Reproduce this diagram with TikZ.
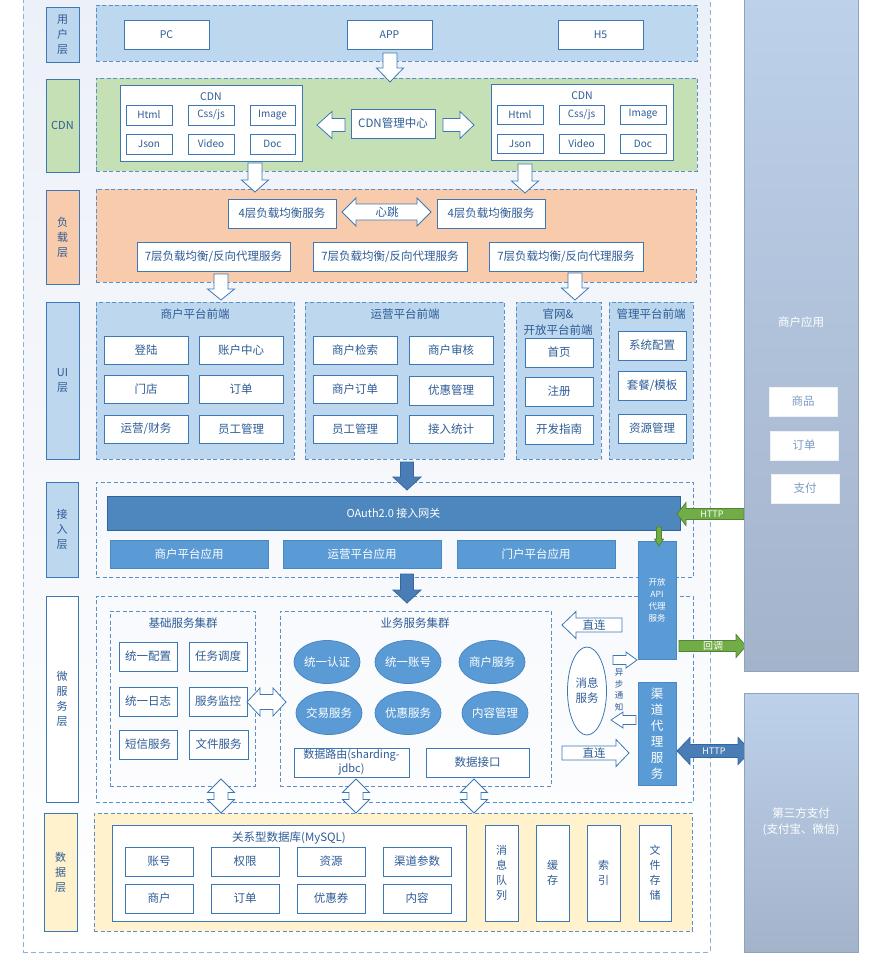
\documentclass[tikz,border=0pt]{standalone}
\usepackage{fontspec}
\setmainfont{Noto Sans CJK SC}
\usetikzlibrary{shapes.geometric}
\definecolor{txt}{HTML}{2E5C95}
\definecolor{bd}{HTML}{3C78B5}
\definecolor{dsh}{HTML}{5B8FC9}
\definecolor{odsh}{HTML}{8DB0D8}
\definecolor{lblue}{HTML}{BDD7EE}
\definecolor{lgreen}{HTML}{C5E0B4}
\definecolor{lorange}{HTML}{F8CBAD}
\definecolor{lyellow}{HTML}{FFF2CC}
\definecolor{mblue}{HTML}{5B9BD5}
\definecolor{mbluebd}{HTML}{4A88C5}
\definecolor{gwblue}{HTML}{4D87BE}
\definecolor{gwbd}{HTML}{2F6399}
\definecolor{sfill}{HTML}{4A7DB5}
\definecolor{sdraw}{HTML}{35679F}
\definecolor{gfill}{HTML}{70AD47}
\definecolor{gdraw}{HTML}{548235}
\definecolor{rtop}{HTML}{BDD1EA}
\definecolor{rbot}{HTML}{A3B3CA}
\definecolor{rbd}{HTML}{8FA3BF}
\definecolor{rtxt}{HTML}{7A9CC6}
\definecolor{bgtop}{HTML}{ECF0F8}
\newcommand\FS[2]{\fontsize{#1}{#2}\selectfont}
\newcommand\BX[7]{\node[#6, minimum width={(#4-#2)*1pt}, minimum height={(#5-#3)*1pt}] (#1) at ({(#2+#4)/2},{(#3+#5)/2}) {#7};}
% horizontal single arrow: style, tail x, head base x, tip x, yc, shaft half, head half
\newcommand\HArr[7]{\draw[#1] ({#2},{#5-#6}) -- ({#3},{#5-#6}) -- ({#3},{#5-#7}) -- ({#4},{#5}) -- ({#3},{#5+#7}) -- ({#3},{#5+#6}) -- ({#2},{#5+#6}) -- cycle;}
% vertical single arrow: style, tail y, head base y, tip y, xc, shaft half, head half
\newcommand\VArr[7]{\draw[#1] ({#5-#6},{#2}) -- ({#5-#6},{#3}) -- ({#5-#7},{#3}) -- ({#5},{#4}) -- ({#5+#7},{#3}) -- ({#5+#6},{#3}) -- ({#5+#6},{#2}) -- cycle;}
% horizontal double arrow: style, x1, x2, yc, shaft half, head half, head len
\newcommand\HDArr[7]{\draw[#1] ({#2},{#4}) -- ({#2+#7},{#4-#6}) -- ({#2+#7},{#4-#5}) -- ({#3-#7},{#4-#5}) -- ({#3-#7},{#4-#6}) -- ({#3},{#4}) -- ({#3-#7},{#4+#6}) -- ({#3-#7},{#4+#5}) -- ({#2+#7},{#4+#5}) -- ({#2+#7},{#4+#6}) -- cycle;}
% vertical double arrow: style, y1, y2, xc, shaft half, head half, head len
\newcommand\VDArr[7]{\draw[#1] ({#4},{#2}) -- ({#4-#6},{#2+#7}) -- ({#4-#5},{#2+#7}) -- ({#4-#5},{#3-#7}) -- ({#4-#6},{#3-#7}) -- ({#4},{#3}) -- ({#4+#6},{#3-#7}) -- ({#4+#5},{#3-#7}) -- ({#4+#5},{#2+#7}) -- ({#4+#6},{#2+#7}) -- cycle;}
\tikzset{
  layer/.style={draw=bd, line width=0.8pt, text=txt, font=\FS{11}{15}, align=center, inner sep=0pt, outer sep=0pt},
  panel/.style={draw=dsh, line width=0.9pt, dash pattern=on 4pt off 2.5pt, inner sep=0pt, outer sep=0pt},
  wbox/.style={draw=bd, line width=0.8pt, fill=white, text=txt, font=\FS{11.5}{14}, align=center, inner sep=0pt, outer sep=0pt},
  sbox/.style={wbox, font=\FS{10}{12}},
  fbox/.style={draw=mbluebd, line width=0.8pt, fill=mblue, text=white, font=\FS{11.5}{14}, align=center, inner sep=0pt, outer sep=0pt},
  ell/.style={ellipse, draw=mbluebd, line width=0.8pt, fill=mblue, text=white, font=\FS{11.5}{14}, minimum width=66pt, minimum height=43pt, inner sep=0pt},
  rcol/.style={draw=rbd, line width=0.8pt, top color=rtop, bottom color=rbot, inner sep=0pt, outer sep=0pt},
  rbox/.style={draw=white!85!rbd, line width=0.8pt, fill=white, text=rtxt, font=\FS{11.5}{14}, inner sep=0pt, outer sep=0pt},
  hollow/.style={draw=bd, line width=0.8pt, fill=white, line join=miter},
  solidarr/.style={draw=sdraw, line width=0.8pt, fill=sfill},
  greenarr/.style={draw=gdraw, line width=0.8pt, fill=gfill},
  lbl/.style={text=txt, font=\FS{11.5}{14}, inner sep=0pt, align=center},
  wlbl/.style={text=white, font=\FS{9}{12}, inner sep=0pt, align=center}
}
\begin{document}
\begin{tikzpicture}[x=1pt,y=-1pt]
\useasboundingbox (0,0) rectangle (882,960);
% outer frame
\BX{outer}{23}{-6}{710}{952}{draw=odsh, line width=0.9pt, dash pattern=on 5pt off 3pt, top color=bgtop, bottom color=white}{}
% layer labels
\BX{l1}{46}{7}{79}{62}{layer, fill=lblue}{用\\户\\层}
\BX{l2}{46}{79}{79}{172}{layer, fill=lgreen}{CDN}
\BX{l3}{46}{190}{79}{284}{layer, fill=lorange}{负\\载\\层}
\BX{l4}{46}{302}{79}{459}{layer, fill=lblue}{UI\\层}
\BX{l5}{46}{482}{78}{577}{layer, fill=lblue}{接\\入\\层}
\BX{l6}{46}{596}{78}{802}{layer, fill=white}{微\\服\\务\\层}
\BX{l7}{44}{813}{77}{931}{layer, fill=lyellow}{数\\据\\层}
% panels
\BX{p1}{96}{5}{697}{61}{panel, fill=lblue}{}
\BX{p2}{96}{78}{697}{171}{panel, fill=lgreen}{}
\BX{p3}{96}{189}{696}{282}{panel, fill=lorange}{}
\BX{pu1}{96}{302}{294}{459}{panel, fill=lblue}{}
\BX{pu2}{305}{302}{504}{459}{panel, fill=lblue}{}
\BX{pu3}{516}{302}{601}{459}{panel, fill=lblue}{}
\BX{pu4}{609}{302}{693}{459}{panel, fill=lblue}{}
\BX{p5}{96}{482}{693}{577}{panel}{}
\BX{p6}{96}{596}{693}{802}{panel}{}
\BX{p6a}{110}{611}{255}{786}{panel}{}
\BX{p6b}{280}{611}{551}{786}{panel}{}
\BX{p7}{94}{813}{692}{931}{panel, fill=lyellow}{}
% user layer
\BX{pc}{124}{20}{209}{49}{wbox, font=\FS{10.5}{12}}{PC}
\BX{appc}{347}{20}{432}{49}{wbox, font=\FS{10.5}{12}}{APP}
\BX{h5}{558}{20}{643}{49}{wbox, font=\FS{10.5}{12}}{H5}
\VArr{hollow}{53}{68}{82}{390}{7}{13.5}
% CDN layer
\BX{cdnL}{120}{85}{302}{161}{wbox}{}
\node[lbl, font=\FS{10.5}{12}] (cdnLt) at (211,97) {CDN};
\BX{htmlL}{126}{105}{172}{125}{sbox}{Html}
\BX{cssL}{188}{105}{234}{125}{sbox}{Css/js}
\BX{imgL}{250}{105}{295}{125}{sbox}{Image}
\BX{jsonL}{126}{134}{172}{154}{sbox}{Json}
\BX{vidL}{188}{134}{234}{154}{sbox}{Video}
\BX{docL}{250}{134}{295}{154}{sbox}{Doc}
\BX{cdnmgr}{351}{109}{435}{138}{wbox}{CDN管理中心}
\BX{cdnR}{491}{84}{673}{160}{wbox}{}
\node[lbl, font=\FS{10.5}{12}] (cdnRt) at (582,96) {CDN};
\BX{htmlR}{497}{105}{543}{124}{sbox}{Html}
\BX{cssR}{559}{105}{604}{124}{sbox}{Css/js}
\BX{imgR}{620}{105}{666}{124}{sbox}{Image}
\BX{jsonR}{497}{134}{543}{153}{sbox}{Json}
\BX{vidR}{559}{134}{604}{153}{sbox}{Video}
\BX{docR}{620}{134}{666}{153}{sbox}{Doc}
\HArr{hollow}{345}{332}{317}{125}{6.5}{13.5}
\HArr{hollow}{443}{460}{474}{125}{6.5}{13.5}
\VArr{hollow}{163}{180}{192}{255}{7}{13.5}
\VArr{hollow}{164}{181}{193}{525}{7}{13.5}
% load balancing layer
\BX{lb4L}{228}{199}{336}{228}{wbox}{4层负载均衡服务}
\BX{lb4R}{437}{199}{545}{228}{wbox}{4层负载均衡服务}
\HDArr{hollow}{342}{431}{212}{8}{14}{14}
\node[lbl] (hb) at (387,212) {心跳};
\BX{lb7a}{137}{242}{290}{271}{wbox}{7层负载均衡/反向代理服务}
\BX{lb7b}{313}{242}{467}{271}{wbox}{7层负载均衡/反向代理服务}
\BX{lb7c}{489}{242}{643}{271}{wbox}{7层负载均衡/反向代理服务}
\VArr{hollow}{274}{289}{300}{221}{7}{13.5}
\VArr{hollow}{273}{288}{300}{575}{7}{13.5}
% UI layer
\node[lbl] (t1) at (195,314) {商户平台前端};
\BX{u11}{104}{336}{188}{364}{wbox}{登陆}
\BX{u12}{199}{336}{283}{364}{wbox}{账户中心}
\BX{u13}{104}{375}{188}{403}{wbox}{门店}
\BX{u14}{199}{375}{283}{403}{wbox}{订单}
\BX{u15}{104}{415}{188}{443}{wbox}{运营/财务}
\BX{u16}{199}{415}{283}{443}{wbox}{员工管理}
\node[lbl] (t2) at (405,314) {运营平台前端};
\BX{u21}{313}{336}{397}{364}{wbox}{商户检索}
\BX{u22}{409}{336}{493}{364}{wbox}{商户审核}
\BX{u23}{313}{375}{397}{403}{wbox}{商户订单}
\BX{u24}{409}{376}{493}{405}{wbox}{优惠管理}
\BX{u25}{313}{415}{397}{443}{wbox}{员工管理}
\BX{u26}{409}{415}{493}{443}{wbox}{接入统计}
\node[lbl, font=\FS{11.5}{16}] (t3) at (558,322) {官网\&\\开放平台前端};
\BX{u31}{525}{338}{593}{367}{wbox}{首页}
\BX{u32}{525}{377}{593}{406}{wbox}{注册}
\BX{u33}{525}{415}{593}{444}{wbox}{开发指南}
\node[lbl] (t4) at (651,314) {管理平台前端};
\BX{u41}{618}{331}{686}{360}{wbox}{系统配置}
\BX{u42}{618}{371}{686}{400}{wbox}{套餐/模板}
\BX{u43}{618}{414}{686}{443}{wbox}{资源管理}
\VArr{solidarr}{462}{477}{490}{407}{6.5}{14}
% access layer
\BX{gw}{107}{496}{680}{530}{fbox, fill=gwblue, draw=gwbd, font=\FS{11}{14}}{OAuth2.0 接入网关}
\BX{a1}{110}{540}{268}{568}{fbox}{商户平台应用}
\BX{a2}{283}{540}{441}{568}{fbox}{运营平台应用}
\BX{a3}{457}{540}{615}{568}{fbox}{门户平台应用}
\BX{oapi}{638}{541}{676}{659}{fbox, font=\FS{8.5}{12}}{开放\\API\\代理\\服务}
\HArr{greenarr}{744}{686}{677}{514}{5.5}{11.5}
\node[wlbl] (httpg) at (712,514) {HTTP};
\VArr{greenarr}{527}{539}{546}{659}{2.5}{4.5}
\VArr{solidarr}{574}{590}{603}{407}{6.5}{14}
% micro service layer
\node[lbl] (t5) at (183,623) {基础服务集群};
\BX{m1}{119}{642}{177}{671}{wbox}{统一配置}
\BX{m2}{189}{642}{247}{671}{wbox}{任务调度}
\BX{m3}{119}{687}{177}{716}{wbox}{统一日志}
\BX{m4}{189}{687}{247}{716}{wbox}{服务监控}
\BX{m5}{119}{730}{177}{759}{wbox}{短信服务}
\BX{m6}{189}{730}{248}{759}{wbox}{文件服务}
\HDArr{hollow}{247}{286}{702}{7.5}{14}{13}
\node[lbl] (t6) at (415,623) {业务服务集群};
\node[ell] (e1) at (327,662) {统一认证};
\node[ell] (e2) at (408,662) {统一账号};
\node[ell] (e3) at (492,662) {商户服务};
\node[ell] (e4) at (329,713) {交易服务};
\node[ell] (e5) at (408,713) {优惠服务};
\node[ell] (e6) at (495,713) {内容管理};
\BX{dr}{294}{748}{409}{777}{wbox, font=\FS{11}{14}}{数据路由(sharding-\\jdbc)}
\BX{di}{426}{748}{529}{777}{wbox}{数据接口}
\node[ellipse, draw=bd, line width=0.8pt, fill=white, text=txt, font=\FS{11.5}{15}, align=center, minimum width=39pt, minimum height=88pt, inner sep=0pt] (msg) at (587,691) {消息\\服务};
\HArr{hollow}{622}{576}{562}{625}{7}{13.5}
\node[lbl] (zl1) at (594,625) {直连};
\HArr{hollow}{562}{616}{629}{753}{7}{13.5}
\node[lbl] (zl2) at (594,753) {直连};
\HArr{hollow}{613}{626}{637}{660}{4.5}{8}
\HArr{hollow}{636}{623}{611}{720}{4.5}{8}
\node[lbl, font=\FS{8.5}{11.5}] (async) at (619,690) {异\\步\\通\\知};
\BX{chan}{638}{682}{676}{785}{fbox, font=\FS{12.5}{16}}{渠\\道\\代\\理\\服\\务}
\HArr{greenarr}{679}{736}{746}{646}{5.5}{11.5}
\node[wlbl, font=\FS{10}{12}] (cb) at (713,646) {回调};
\HDArr{solidarr}{677}{751}{751}{6.5}{13.5}{13}
\node[wlbl] (httpb) at (714,751) {HTTP};
\VDArr{hollow}{779}{813}{221}{7}{13.5}{13.5}
\VDArr{hollow}{779}{813}{356}{7}{13.5}{13.5}
\VDArr{hollow}{779}{813}{474}{7}{13.5}{13.5}
% data layer
\BX{mysql}{112}{825}{466}{921}{wbox}{}
\node[lbl] (t7) at (289,838) {关系型数据库(MySQL)};
\BX{d1}{125}{847}{193}{876}{wbox}{账号}
\BX{d2}{211}{847}{279}{876}{wbox}{权限}
\BX{d3}{297}{847}{365}{876}{wbox}{资源}
\BX{d4}{383}{847}{451}{876}{wbox}{渠道参数}
\BX{d5}{125}{884}{193}{913}{wbox}{商户}
\BX{d6}{211}{884}{279}{913}{wbox}{订单}
\BX{d7}{297}{884}{365}{913}{wbox}{优惠券}
\BX{d8}{383}{884}{451}{913}{wbox}{内容}
\BX{mq}{485}{825}{518}{921}{wbox, font=\FS{11}{15}}{消\\息\\队\\列}
\BX{cache}{536}{825}{569}{921}{wbox, font=\FS{11}{15}}{缓\\存}
\BX{idx}{587}{825}{620}{921}{wbox, font=\FS{11}{15}}{索\\引}
\BX{fs}{639}{825}{671}{921}{wbox, font=\FS{11}{15}}{文\\件\\存\\储}
% right column
\BX{merch}{744}{-4}{858}{671}{rcol}{}
\node[wlbl, font=\FS{11.5}{14}] (merchT) at (801,322) {商户应用};
\BX{goods}{769}{387}{837}{416}{rbox}{商品}
\BX{rord}{770}{431}{838}{460}{rbox}{订单}
\BX{rpay}{771}{474}{839}{503}{rbox}{支付}
\BX{third}{744}{693}{858}{952}{rcol}{}
\node[wlbl, font=\FS{11.5}{16}] (thirdT) at (801,822) {第三方支付\\(支付宝、微信)};
\end{tikzpicture}
\end{document}
